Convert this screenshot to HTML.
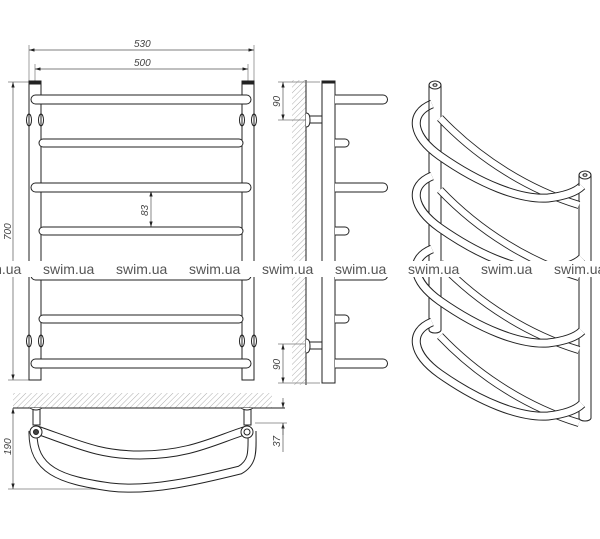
<!DOCTYPE html>
<html><head><meta charset="utf-8"><style>
html,body{margin:0;padding:0;background:#fff;width:600px;height:539px;overflow:hidden}
svg{display:block}
.d{font-family:"Liberation Sans",sans-serif;font-style:italic;font-size:10px;fill:#444}
.w{font-family:"Liberation Sans",sans-serif;font-size:14px;fill:#555}
</style></head><body>
<svg width="600" height="539" viewBox="0 0 600 539" xmlns="http://www.w3.org/2000/svg">
<defs>
<pattern id="h" width="4" height="4" patternUnits="userSpaceOnUse" patternTransform="rotate(45)">
<line x1="0" y1="0" x2="0" y2="4" stroke="#999" stroke-width="0.8"/>
</pattern>
<marker id="a" viewBox="0 0 10 6" refX="10" refY="3" markerWidth="8" markerHeight="5" orient="auto-start-reverse"><path d="M0,0L10,3L0,6z" fill="#222"/></marker>
</defs>
<g stroke="#222" fill="none" stroke-width="1">
<line x1="29" y1="45" x2="29" y2="82" stroke="#777" stroke-width=".7"/>
<line x1="254" y1="45" x2="254" y2="82" stroke="#777" stroke-width=".7"/>
<line x1="35" y1="64" x2="35" y2="82" stroke="#777" stroke-width=".7"/>
<line x1="248" y1="64" x2="248" y2="82" stroke="#777" stroke-width=".7"/>
<line x1="29" y1="50" x2="254" y2="50" stroke="#555" stroke-width=".7" marker-start="url(#a)" marker-end="url(#a)"/>
<line x1="35" y1="69" x2="248" y2="69" stroke="#555" stroke-width=".7" marker-start="url(#a)" marker-end="url(#a)"/>
<line x1="8" y1="82" x2="29" y2="82" stroke="#777" stroke-width=".7"/>
<line x1="8" y1="380" x2="29" y2="380" stroke="#777" stroke-width=".7"/>
<line x1="13" y1="82" x2="13" y2="380" stroke="#555" stroke-width=".7" marker-start="url(#a)" marker-end="url(#a)"/>
<line x1="151" y1="191" x2="151" y2="227" stroke="#555" stroke-width=".7" marker-start="url(#a)" marker-end="url(#a)"/>
<rect x="29" y="82" width="12" height="298" fill="#fff"/>
<rect x="242" y="82" width="12" height="298" fill="#fff"/>
<rect x="29" y="81" width="12" height="3" fill="#222"/>
<rect x="242" y="81" width="12" height="3" fill="#222"/>
<ellipse cx="29" cy="120" rx="2.5" ry="6"/><ellipse cx="41" cy="120" rx="2.5" ry="6"/>
<ellipse cx="242" cy="120" rx="2.5" ry="6"/><ellipse cx="254" cy="120" rx="2.5" ry="6"/>
<ellipse cx="29" cy="341" rx="2.5" ry="6"/><ellipse cx="41" cy="341" rx="2.5" ry="6"/>
<ellipse cx="242" cy="341" rx="2.5" ry="6"/><ellipse cx="254" cy="341" rx="2.5" ry="6"/>
<rect x="31" y="95" width="220" height="9" rx="4.5" fill="#fff"/>
<rect x="39" y="139" width="204" height="8" rx="4" fill="#fff"/>
<rect x="31" y="183" width="220" height="9" rx="4.5" fill="#fff"/>
<rect x="39" y="227" width="204" height="8" rx="4" fill="#fff"/>
<rect x="31" y="271" width="220" height="9" rx="4.5" fill="#fff"/>
<rect x="39" y="315" width="204" height="8" rx="4" fill="#fff"/>
<rect x="31" y="359" width="220" height="9" rx="4.5" fill="#fff"/>

<rect x="292" y="80" width="14" height="305" fill="url(#h)" stroke="none"/>
<line x1="306" y1="80" x2="306" y2="385"/>
<line x1="278" y1="82" x2="320" y2="82" stroke="#777" stroke-width=".7"/>
<line x1="278" y1="120" x2="306" y2="120" stroke="#777" stroke-width=".7"/>
<line x1="283" y1="82" x2="283" y2="120" stroke="#555" stroke-width=".7" marker-start="url(#a)" marker-end="url(#a)"/>
<line x1="278" y1="344" x2="306" y2="344" stroke="#777" stroke-width=".7"/>
<line x1="278" y1="383" x2="320" y2="383" stroke="#777" stroke-width=".7"/>
<line x1="283" y1="344" x2="283" y2="383" stroke="#555" stroke-width=".7" marker-start="url(#a)" marker-end="url(#a)"/>
<rect x="322" y="82" width="13" height="301" fill="#fff"/>
<rect x="322" y="81" width="13" height="2" fill="#222"/>
<rect x="308" y="116" width="14" height="7" fill="#fff"/>
<path d="M306,113 q4,0 4,7 q0,7 -4,7" fill="#fff"/>
<rect x="308" y="342" width="14" height="7" fill="#fff"/>
<path d="M306,339 q4,0 4,7 q0,7 -4,7" fill="#fff"/>
<path d="M335,95 H383 a4.5,4.5 0 0 1 0,9 H335" fill="#fff"/>
<path d="M335,139 H345 a4,4 0 0 1 0,8 H335" fill="#fff"/>
<path d="M335,183 H383 a4.5,4.5 0 0 1 0,9 H335" fill="#fff"/>
<path d="M335,227 H345 a4,4 0 0 1 0,8 H335" fill="#fff"/>
<path d="M335,271 H383 a4.5,4.5 0 0 1 0,9 H335" fill="#fff"/>
<path d="M335,315 H345 a4,4 0 0 1 0,8 H335" fill="#fff"/>
<path d="M335,359 H383 a4.5,4.5 0 0 1 0,9 H335" fill="#fff"/>

<rect x="13" y="393" width="259" height="15" fill="url(#h)" stroke="none"/>
<line x1="13" y1="408" x2="285" y2="408"/>
<line x1="8" y1="489" x2="130" y2="489" stroke="#777" stroke-width=".7"/>
<line x1="13" y1="408" x2="13" y2="489" stroke="#555" stroke-width=".7" marker-start="url(#a)" marker-end="url(#a)"/>
<line x1="255" y1="423" x2="287" y2="423" stroke="#777" stroke-width=".7"/>
<line x1="283" y1="398" x2="283" y2="408" stroke="#555" stroke-width=".7" marker-end="url(#a)"/>
<line x1="283" y1="435" x2="283" y2="423" stroke="#555" stroke-width=".7" marker-end="url(#a)"/>
<line x1="283" y1="423" x2="283" y2="452" stroke="#555" stroke-width=".7"/>
<path d="M33,431 C32,470 60,480 110,487 C150,492 200,480 240,470 C254,462 252,450 252,431" stroke-width="9" stroke="#222"/>
<path d="M33,431 C32,470 60,480 110,487 C150,492 200,480 240,470 C254,462 252,450 252,431" stroke-width="7" stroke="#fff"/>
<path d="M37,430 C80,445 100,455 140,455 C190,455 215,440 247,430" stroke-width="9" stroke="#222"/>
<path d="M37,430 C80,445 100,455 140,455 C190,455 215,440 247,430" stroke-width="7" stroke="#fff"/>
<rect x="33" y="409" width="7" height="16" fill="#fff"/>
<rect x="244" y="409" width="7" height="16" fill="#fff"/>
<path d="M30,408 q6,4 12,0" fill="#fff"/><path d="M241,408 q6,4 12,0" fill="#fff"/>
<circle cx="36" cy="432" r="6" fill="#fff"/><circle cx="36" cy="432" r="2.5" fill="#444"/>
<circle cx="247" cy="432" r="6" fill="#fff"/><circle cx="247" cy="432" r="3"/>

<g>
<path d="M429,85 V330 a6,3 0 0 0 12,0 V85" fill="#fff"/>
<ellipse cx="435" cy="85" rx="6" ry="4" fill="#fff"/><ellipse cx="435" cy="85" rx="2" ry="1.3"/>
<path d="M579,175 V418 a6,3 0 0 0 12,0 V175" fill="#fff"/>
<ellipse cx="585" cy="175" rx="6" ry="4" fill="#fff"/><ellipse cx="585" cy="175" rx="2" ry="1.3"/>
</g>
<g id="bar">
<path d="M440,118 C480,160 530,190 579,205" stroke-width="8"/>
<path d="M440,118 C480,160 530,190 579,205" stroke-width="6.3" stroke="#fff"/>
<path d="M432,104 C408,114 412,136 440,156 C480,184 520,200 548,198 C565,196 576,192 582,186" stroke-width="9"/>
<path d="M432,104 C408,114 412,136 440,156 C480,184 520,200 548,198 C565,196 576,192 582,186" stroke-width="7" stroke="#fff"/>
</g>
<use href="#bar" y="72"/>
<use href="#bar" y="145"/>
<use href="#bar" y="218"/>
<line x1="429" y1="85" x2="429" y2="110"/><line x1="441" y1="85" x2="441" y2="112"/>
<line x1="579" y1="175" x2="579" y2="186"/><line x1="591" y1="175" x2="591" y2="418"/>
</g>

<rect x="0" y="261" width="600" height="16" fill="#fff"/>
<g class="w">
<text x="-30" y="274">swim.ua</text><text x="43" y="274">swim.ua</text><text x="116" y="274">swim.ua</text>
<text x="189" y="274">swim.ua</text><text x="262" y="274">swim.ua</text><text x="335" y="274">swim.ua</text>
<text x="408" y="274">swim.ua</text><text x="481" y="274">swim.ua</text><text x="554" y="274">swim.ua</text>
</g>

<text class="d" x="134" y="47">530</text>
<text class="d" x="134" y="66">500</text>
<text class="d" transform="translate(11,240) rotate(-90)">700</text>
<text class="d" transform="translate(148,216) rotate(-90)">83</text>
<text class="d" transform="translate(280,107) rotate(-90)">90</text>
<text class="d" transform="translate(280,370) rotate(-90)">90</text>
<text class="d" transform="translate(11,455) rotate(-90)">190</text>
<text class="d" transform="translate(280,447) rotate(-90)">37</text>
</svg>
</body></html>
